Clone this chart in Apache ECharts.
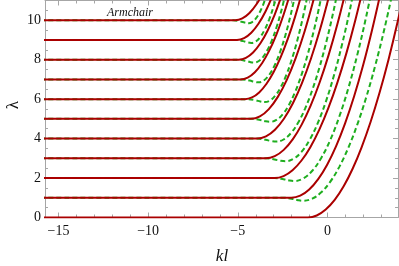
<!DOCTYPE html>
<html>
<head>
<meta charset="utf-8">
<script src="https://cdn.jsdelivr.net/npm/echarts@6/dist/echarts.min.js"></script>
<style>html,body{margin:0;padding:0;background:#fff}#c{width:399px;height:266px}</style>
</head>
<body>
<div id="c"></div>
<script>
// axis ranges and ticks
const xMin = -15.75, xMax = 3.93, yMin = 0, yMax = 11;
const xTicks = [-15, -10, -5, 0];
const xMinorTicks = [-15,-14,-13,-12,-11,-10,-9,-8,-7,-6,-5,-4,-3,-2,-1,0,1,2,3];
const yTicks = [0, 2, 4, 6, 8, 10];
const yMinorTicks = [0.5,1,1.5,2,2.5,3,3.5,4,4.5,5,5.5,6,6.5,7,7.5,8,8.5,9,9.5,10,10.5];

// red (solid) branches [kl, lambda]
const red0 = [[-16,0],[-1.6,0],[-1.1,0],[-0.6,0.1],[-0.1,0.4],[0.4,0.89],[0.9,1.58],[1.4,2.47],[1.9,3.56],[2.4,4.84],[2.9,6.32],[3.4,8.0],[3.9,9.88],[4.4,11.95]];
const red1 = [[-16,1],[-2.52,1],[-2.02,1],[-1.52,1.105],[-1.02,1.419],[-0.52,1.943],[-0.02,2.676],[0.48,3.619],[0.98,4.771],[1.48,6.13],[1.98,7.70],[2.48,9.49],[2.98,11.48]];
const red2 = [[-16,2],[-3.45,2],[-2.95,2],[-2.45,2.099],[-1.95,2.395],[-1.45,2.889],[-0.95,3.58],[-0.45,4.469],[0.05,5.555],[0.55,6.839],[1.05,8.32],[1.55,10.0],[2.05,11.875]];
const red3 = [[-16,3],[-3.94,3],[-3.44,3],[-2.94,3.107],[-2.44,3.427],[-1.94,3.961],[-1.44,4.708],[-0.94,5.669],[-0.44,6.843],[0.06,8.231],[0.56,9.832],[1.06,11.647]];
const red4 = [[-16,4],[-4.43,4],[-3.93,4],[-3.43,4.112],[-2.93,4.448],[-2.43,5.008],[-1.93,5.792],[-1.43,6.8],[-0.93,8.032],[-0.43,9.488],[0.07,11.168]];
const red5 = [[-16,5],[-4.77,5],[-4.27,5],[-3.77,5.124],[-3.27,5.495],[-2.77,6.114],[-2.27,6.98],[-1.77,8.094],[-1.27,9.456],[-0.77,11.064]];
const red6 = [[-16,6],[-5.01,6],[-4.61,6],[-4.21,6.085],[-3.81,6.34],[-3.41,6.766],[-3.01,7.362],[-2.61,8.128],[-2.21,9.064],[-1.81,10.171],[-1.41,11.448]];
const red7 = [[-16,7],[-5.25,7],[-4.85,7],[-4.45,7.091],[-4.05,7.364],[-3.65,7.819],[-3.25,8.457],[-2.85,9.276],[-2.45,10.277],[-2.05,11.461]];
const red8 = [[-16,8],[-5.35,8],[-4.95,8],[-4.55,8.091],[-4.15,8.364],[-3.75,8.819],[-3.35,9.457],[-2.95,10.276],[-2.55,11.277]];
const red9 = [[-16,9],[-5.45,9],[-5.05,9],[-4.65,9.091],[-4.25,9.364],[-3.85,9.819],[-3.45,10.457],[-3.05,11.276]];
const red10 = [[-16,10],[-5.55,10],[-5.15,10],[-4.75,10.091],[-4.35,10.364],[-3.95,10.819],[-3.55,11.457]];

// green (dashed) branches [kl, lambda]
const green1 = [[-16,1],[-2.95,1],[-2.45,1],[-1.95,0.94],[-1.65,0.88],[-1.35,0.85],[-0.85,0.957],[-0.35,1.276],[0.15,1.809],[0.65,2.554],[1.15,3.513],[1.65,4.684],[2.15,6.069],[2.65,7.666],[3.15,9.477],[3.65,11.5]];
const green2 = [[-16,2],[-3.45,2],[-2.95,2],[-2.45,1.94],[-2.15,1.88],[-1.85,1.85],[-1.35,1.98],[-0.85,2.369],[-0.35,3.018],[0.15,3.926],[0.65,5.094],[1.15,6.521],[1.65,8.208],[2.15,10.154],[2.65,12.36]];
const green3 = [[-16,3],[-3.95,3],[-3.45,3],[-2.95,2.94],[-2.65,2.88],[-2.35,2.85],[-1.9,2.97],[-1.45,3.33],[-1.0,3.931],[-0.55,4.771],[-0.1,5.852],[0.35,7.173],[0.8,8.734],[1.25,10.535],[1.7,12.58]];
const green4 = [[-16,4],[-4.45,4],[-3.95,4],[-3.45,3.94],[-3.15,3.88],[-2.85,3.85],[-2.45,3.954],[-2.05,4.267],[-1.65,4.789],[-1.25,5.519],[-0.85,6.458],[-0.45,7.606],[-0.05,8.962],[0.35,10.526],[0.75,12.3]];
const green5 = [[-16,5],[-4.7,5],[-4.2,5],[-3.75,4.94],[-3.48,4.88],[-3.2,4.85],[-2.85,4.945],[-2.5,5.231],[-2.15,5.708],[-1.8,6.375],[-1.45,7.233],[-1.1,8.281],[-0.75,9.52],[-0.4,10.95],[-0.05,12.57]];
const green6 = [[-16,6],[-4.95,6],[-4.45,6],[-4.0,5.94],[-3.75,5.88],[-3.5,5.85],[-3.2,5.935],[-2.9,6.192],[-2.6,6.619],[-2.3,7.217],[-2.0,7.985],[-1.7,8.925],[-1.4,10.035],[-1.1,11.316]];
const green7 = [[-16,7],[-5.25,7],[-4.75,7],[-4.33,6.94],[-4.08,6.88],[-3.85,6.85],[-3.55,6.945],[-3.25,7.231],[-2.95,7.708],[-2.65,8.375],[-2.35,9.233],[-2.05,10.281],[-1.75,11.52]];
const green8 = [[-16,8],[-5.45,8],[-4.95,8],[-4.55,7.94],[-4.32,7.88],[-4.1,7.85],[-3.85,7.921],[-3.6,8.133],[-3.35,8.486],[-3.1,8.98],[-2.85,9.616],[-2.6,10.393],[-2.35,11.311]];
const green9 = [[-16,9],[-5.6,9],[-5.1,9],[-4.7,8.94],[-4.47,8.88],[-4.25,8.85],[-4.0,8.925],[-3.75,9.149],[-3.5,9.523],[-3.25,10.047],[-3.0,10.72],[-2.75,11.543]];
const green10 = [[-16,10],[-5.75,10],[-5.25,10],[-4.85,9.94],[-4.62,9.88],[-4.4,9.85],[-4.2,9.907],[-4.0,10.077],[-3.8,10.361],[-3.6,10.759],[-3.4,11.27]];

const reds = [red0, red1, red2, red3, red4, red5, red6, red7, red8, red9, red10];
const greens = [green1, green2, green3, green4, green5, green6, green7, green8, green9, green10];

const RED = '#aa0000', GREEN = '#1fae1f';
const FRAME = '#a6a6a6', TXT = '#111';
const SERIF = '"Liberation Serif", "DejaVu Serif", serif';

function fmt(v) { return v < 0 ? '\u2212' + Math.abs(v) : String(v); }

function xAx(pos, ticks, len, labels, line) {
  return {
    type: 'value', position: pos, min: xMin, max: xMax,
    axisLine: { show: line, onZero: false, lineStyle: { color: FRAME, width: 1 } },
    axisTick: { show: true, inside: true, length: len, customValues: ticks, lineStyle: { color: FRAME, width: 1 } },
    axisLabel: labels ? { show: true, customValues: ticks, formatter: fmt, margin: 7, fontFamily: SERIF, fontSize: 14, color: TXT } : { show: false },
    splitLine: { show: false }
  };
}
function yAx(pos, ticks, len, labels, line) {
  return {
    type: 'value', position: pos, min: yMin, max: yMax,
    axisLine: { show: line, onZero: false, lineStyle: { color: FRAME, width: 1 } },
    axisTick: { show: true, inside: true, length: len, customValues: ticks, lineStyle: { color: FRAME, width: 1 } },
    axisLabel: labels ? { show: true, customValues: ticks, formatter: fmt, margin: 4, fontFamily: SERIF, fontSize: 14, color: TXT } : { show: false },
    splitLine: { show: false }
  };
}

const series = [];
greens.forEach((d) => series.push({
  type: 'line', data: d, xAxisIndex: 0, yAxisIndex: 0, showSymbol: false, symbol: 'none',
  smooth: 0.4, z: 2, animation: false,
  lineStyle: { color: GREEN, width: 2, type: [5, 3] }
}));
reds.forEach((d) => series.push({
  type: 'line', data: d, xAxisIndex: 0, yAxisIndex: 0, showSymbol: false, symbol: 'none',
  smooth: 0.4, z: 3, animation: false,
  lineStyle: { color: RED, width: 2 }
}));

const chart = echarts.init(document.getElementById('c'), null, { renderer: 'canvas' });
chart.setOption({
  animation: false,
  backgroundColor: '#fff',
  grid: { left: 45, right: 1, top: 0.5, bottom: 48.5, containLabel: false },
  xAxis: [
    xAx('bottom', xTicks, 5, true, true),
    xAx('bottom', xMinorTicks, 3, false, false),
    xAx('top', xTicks, 5, false, true),
    xAx('top', xMinorTicks, 3, false, false)
  ],
  yAxis: [
    yAx('left', yTicks, 5, true, true),
    yAx('left', yMinorTicks, 3, false, false),
    yAx('right', yTicks, 5, false, true),
    yAx('right', yMinorTicks, 3, false, false)
  ],
  series: series,
  graphic: [
    { type: 'text', left: 5, top: 101, rotation: Math.PI / 2,
      style: { text: 'λ', font: '17px ' + SERIF, fill: TXT } },
    { type: 'text', style: { text: 'kl', font: 'italic 17px ' + SERIF, fill: TXT, x: 222, y: 257, align: 'center', verticalAlign: 'middle' } },
    { type: 'text', style: { text: 'Armchair', font: 'italic 12px ' + SERIF, fill: TXT, x: 107, y: 12.5, align: 'left', verticalAlign: 'middle' } }
  ]
});
</script>
</body>
</html>
